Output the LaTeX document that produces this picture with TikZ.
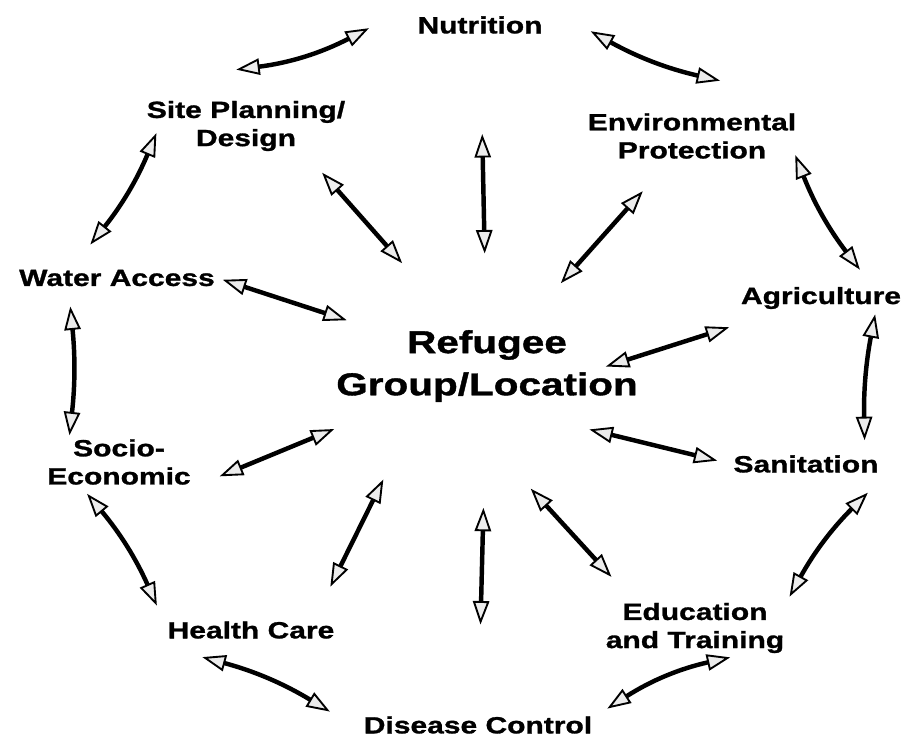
\documentclass[tikz,border=0pt]{standalone}
\usepackage{fontspec}
\usetikzlibrary{arrows.meta,calc}
\newfontfamily\labelfont[FakeStretch=1.28,FakeBold=1.2]{Liberation Sans}

\begin{document}
\begin{tikzpicture}[x=0.03cm,y=-0.03cm,
  topic/.style={font=\labelfont\bfseries\fontsize{20}{24}\selectfont, align=center, inner sep=2pt},
  hubtext/.style={font=\labelfont\bfseries\fontsize{27}{36}\selectfont, align=center, inner sep=2pt},
  link/.style={line width=3.8pt, >={Triangle[length=20pt,width=14pt,line width=1.6pt,fill=gray!15]}, <->}]
  \useasboundingbox (0,0) rectangle (917,739);

  % centre and the topics round it
  \node[hubtext] (hub) at (487,366) {Refugee\\Group/Location};
  \node[topic] (nut) at (480,25) {Nutrition};
  \node[topic] (site) at (246,126) {Site Planning/\\Design};
  \node[topic] (env) at (692,136) {Environmental\\Protection};
  \node[topic] (water) at (117,278) {Water Access};
  \node[topic] (agri) at (821,298) {Agriculture};
  \node[topic] (socio) at (119,462) {Socio-\\Economic};
  \node[topic] (sani) at (806,464) {Sanitation};
  \node[topic] (health) at (251,630) {Health Care};
  \node[topic] (edu) at (695,628) {Education\\and Training};
  \node[topic] (dis) at (478,725) {Disease Control};

  % outer ring, clockwise
  \draw[link] ($(site.north west)!0.34!(nut.north west)$) to[bend right=10] ($(site.north west)!0.83!(nut.north west)$);
  \draw[link] ($(nut.north east)!0.18!(env.north east)$) to[bend right=8] ($(nut.north east)!0.69!(env.north east)$);
  \draw[link] ($(env.south east)!-0.05!(agri.16)$) to[bend right=8] ($(env.south east)!0.88!(agri.16)$);
  \draw[link] ($(agri.-14)!0.02!(sani.11)$) to[bend right=6] ($(agri.-14)!0.91!(sani.11)$);
  \draw[link] ($(sani.south east)!0.14!(edu.north east)$) to[bend right=8] ($(sani.south east)!0.97!(edu.north east)$);
  \draw[link] ($(edu.-35)!0.03!(dis.north east)$) to[bend right=10] ($(edu.-35)!0.91!(dis.north east)$);
  \draw[link] ($(dis.west)!0.16!(health.south west)$) to[bend right=8] ($(dis.west)!0.81!(health.south west)$);
  \draw[link] ($(health.north west)!0.10!(socio.215)$) to[bend right=8] ($(health.north west)!0.95!(socio.215)$);
  \draw[link] ($(socio.153)!0.01!(water.193)$) to[bend right=6] ($(socio.153)!0.88!(water.193)$);
  \draw[link] ($(water.165)!0.20!(site.south west)$) to[bend right=8] ($(water.165)!1.18!(site.south west)$);

  % spokes into the centre
  \draw[link] ($(nut)!0.32!(hub)$) -- ($(nut)!0.67!(hub)$);
  \draw[link] ($(site.335)!0.11!(hub.126)$) -- ($(site.335)!0.63!(hub.126)$);
  \draw[link] ($(env)!0.24!(hub)$) -- ($(env)!0.64!(hub)$);
  \draw[link] ($(water.east)!0.02!(hub)$) -- ($(water.east)!0.48!(hub)$);
  \draw[link] ($(agri)!0.275!(hub.south)$) -- ($(agri)!0.644!(hub.south)$);
  \draw[link] ($(sani.west)!0.056!(hub.south)$) -- ($(sani.west)!0.58!(hub.south)$);
  \draw[link] ($(socio.south east)!0.09!(hub)$) -- ($(socio.south east)!0.48!(hub)$);
  \draw[link] ($(health.10)!0.15!(hub.210)$) -- ($(health.10)!0.65!(hub.210)$);
  \draw[link] ($(dis)!0.28!(hub)$) -- ($(dis)!0.605!(hub)$);
  \draw[link] ($(edu.156)!0.12!(hub.229)$) -- ($(edu.156)!0.57!(hub.229)$);
\end{tikzpicture}
\end{document}
